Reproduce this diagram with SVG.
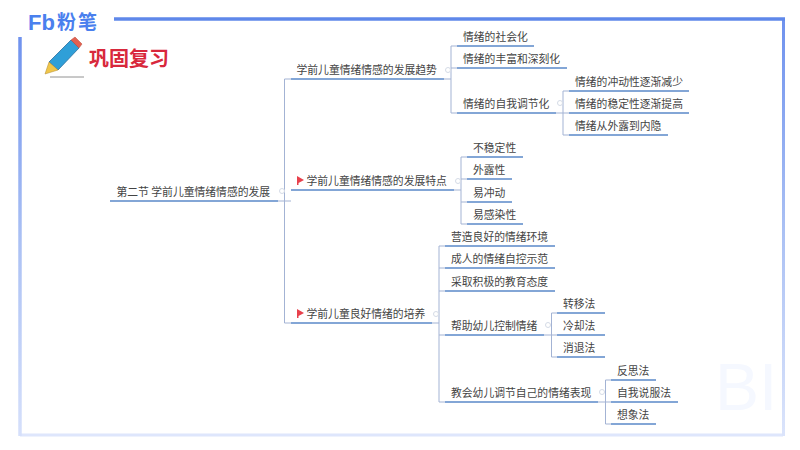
<svg xmlns="http://www.w3.org/2000/svg" width="800" height="450" viewBox="0 0 800 450">
<defs>
<linearGradient id="vr" gradientUnits="userSpaceOnUse" x1="0" y1="19" x2="0" y2="436"><stop offset="0" stop-color="#6f92ee"/><stop offset=".5" stop-color="#aac0f4"/><stop offset="1" stop-color="#dbe4fb"/></linearGradient>
<linearGradient id="vb" gradientUnits="userSpaceOnUse" x1="20" y1="37" x2="20" y2="437"><stop offset="0" stop-color="#6f92ee"/><stop offset=".5" stop-color="#aac0f4"/><stop offset="1" stop-color="#d6e0fb"/></linearGradient>
</defs>
<style>
text{font-family:"Noto Sans CJK SC","Liberation Sans",sans-serif;font-size:10.8px;fill:#444}
.u{stroke:#5a88c8;stroke-width:1.5;fill:none}
.c{stroke:#a3b3d4;stroke-width:1;fill:none}
.f{fill:#e8414c}
.o{fill:#fff;stroke:#d5dbe6;stroke-width:1}
</style>
<rect width="800" height="450" fill="#fff"/>
<g id="frame">
<text x="715" y="410" style="font-family:'Liberation Sans',sans-serif;font-size:66px;fill:#f5f8ff">BI</text>
<path d="M20 435H783" stroke="#dee6fc" stroke-width="3"/>
<path d="M20 37V436" stroke="url(#vb)" stroke-width="3.500"/>
<path d="M783.500 19V436" stroke="url(#vr)" stroke-width="3"/>
<path d="M114 19H785" stroke="#5f88ea" stroke-width="3.500"/>
</g>
<g id="logo">
<text x="28" y="30" style="font-family:'Liberation Sans',sans-serif;font-size:22px;font-weight:bold;fill:#4a80ee">Fb</text>
<text x="57" y="28.500" style="font-size:19px;font-weight:bold;letter-spacing:2px;fill:#4a80ee">粉笔</text>
</g>
<g id="pencil">
<path d="M49 62L71 40L79 48L58 70Z" fill="#2f9fd8" stroke="#2a6f9e" stroke-width=".8"/>
<path d="M71 40L75 37L82 44L79 48Z" fill="#e2604f" stroke="#b84a3c" stroke-width=".5"/>
<path d="M49 62L58 70L45 74Z" fill="#f0c64a" stroke="#b08a30" stroke-width=".5"/>
<path d="M50 77H84" stroke="#777" stroke-width=".8"/>
</g>
<text id="title" x="89" y="65.500" style="font-size:20px;font-weight:bold;fill:#d8283c">巩固复习</text>
<g id="connectors">
<path class="c" d="M291 79H284.500V323H291M278 201H291"/>
<path class="c" d="M457 46H451V113H457M451 68H457M444 79H451"/>
<path class="c" d="M569 91H563V135H569M563 113H569M556 113H563"/>
<path class="c" d="M467 157H461V224H467M461 179H467M461 202H467M454 190H461"/>
<path class="c" d="M445 246H439V402H445M439 268H445M439 291H445M439 335H445M432 323H439"/>
<path class="c" d="M557 313H551.500V357H557M551.500 335H557M544 335H551.500"/>
<path class="c" d="M611 380H605.500V424H611M605.500 402H611M598 402H605.500"/>
<circle class="o" cx="448" cy="70" r="2.500"/>
<circle class="o" cx="560" cy="103" r="2.500"/>
<circle class="o" cx="458" cy="181" r="2.500"/>
<circle class="o" cx="282" cy="191" r="2.500"/>
<circle class="o" cx="436" cy="314" r="2.500"/>
<circle class="o" cx="548" cy="325" r="2.500"/>
<circle class="o" cx="602" cy="392" r="2.500"/>
</g>
<g id="n-root"><text x="116.500" y="196">第二节 学前儿童情绪情感的发展</text><path class="u" d="M110 201H278"/></g>
<g id="n-a"><text x="296.500" y="74">学前儿童情绪情感的发展趋势</text><path class="u" d="M291 79H444"/></g>
<g id="n-b"><path class="f" d="M297 176L304 180L298.500 183V185H297Z"/><text x="306.500" y="185">学前儿童情绪情感的发展特点</text><path class="u" d="M291 190H454"/></g>
<g id="n-c"><path class="f" d="M297 309L304 313L298.500 316V318H297Z"/><text x="306.500" y="318">学前儿童良好情绪的培养</text><path class="u" d="M291 323H432"/></g>
<g id="n-a1"><text x="463" y="41">情绪的社会化</text><path class="u" d="M457 46H534"/></g>
<g id="n-a2"><text x="463" y="63">情绪的丰富和深刻化</text><path class="u" d="M457 68H567"/></g>
<g id="n-a3"><text x="463" y="108">情绪的自我调节化</text><path class="u" d="M457 113H556"/></g>
<g id="n-a31"><text x="575" y="86">情绪的冲动性逐渐减少</text><path class="u" d="M569 91H689"/></g>
<g id="n-a32"><text x="575" y="108">情绪的稳定性逐渐提高</text><path class="u" d="M569 113H689"/></g>
<g id="n-a33"><text x="575" y="130">情绪从外露到内隐</text><path class="u" d="M569 135H668"/></g>
<g id="n-b1"><text x="473" y="152">不稳定性</text><path class="u" d="M467 157H523"/></g>
<g id="n-b2"><text x="473" y="174">外露性</text><path class="u" d="M467 179H512"/></g>
<g id="n-b3"><text x="473" y="197">易冲动</text><path class="u" d="M467 202H512"/></g>
<g id="n-b4"><text x="473" y="219">易感染性</text><path class="u" d="M467 224H523"/></g>
<g id="n-c1"><text x="451" y="241">营造良好的情绪环境</text><path class="u" d="M445 246H555"/></g>
<g id="n-c2"><text x="451" y="263">成人的情绪自控示范</text><path class="u" d="M445 268H555"/></g>
<g id="n-c3"><text x="451" y="286">采取积极的教育态度</text><path class="u" d="M445 291H555"/></g>
<g id="n-c4"><text x="451" y="330">帮助幼儿控制情绪</text><path class="u" d="M445 335H544"/></g>
<g id="n-c41"><text x="563" y="308">转移法</text><path class="u" d="M557 313H605"/></g>
<g id="n-c42"><text x="563" y="330">冷却法</text><path class="u" d="M557 335H605"/></g>
<g id="n-c43"><text x="563" y="352">消退法</text><path class="u" d="M557 357H605"/></g>
<g id="n-c5"><text x="451" y="397">教会幼儿调节自己的情绪表现</text><path class="u" d="M445 402H598"/></g>
<g id="n-c51"><text x="617" y="375">反思法</text><path class="u" d="M611 380H656"/></g>
<g id="n-c52"><text x="617" y="397">自我说服法</text><path class="u" d="M611 402H678"/></g>
<g id="n-c53"><text x="617" y="419">想象法</text><path class="u" d="M611 424H656"/></g>
</svg>
